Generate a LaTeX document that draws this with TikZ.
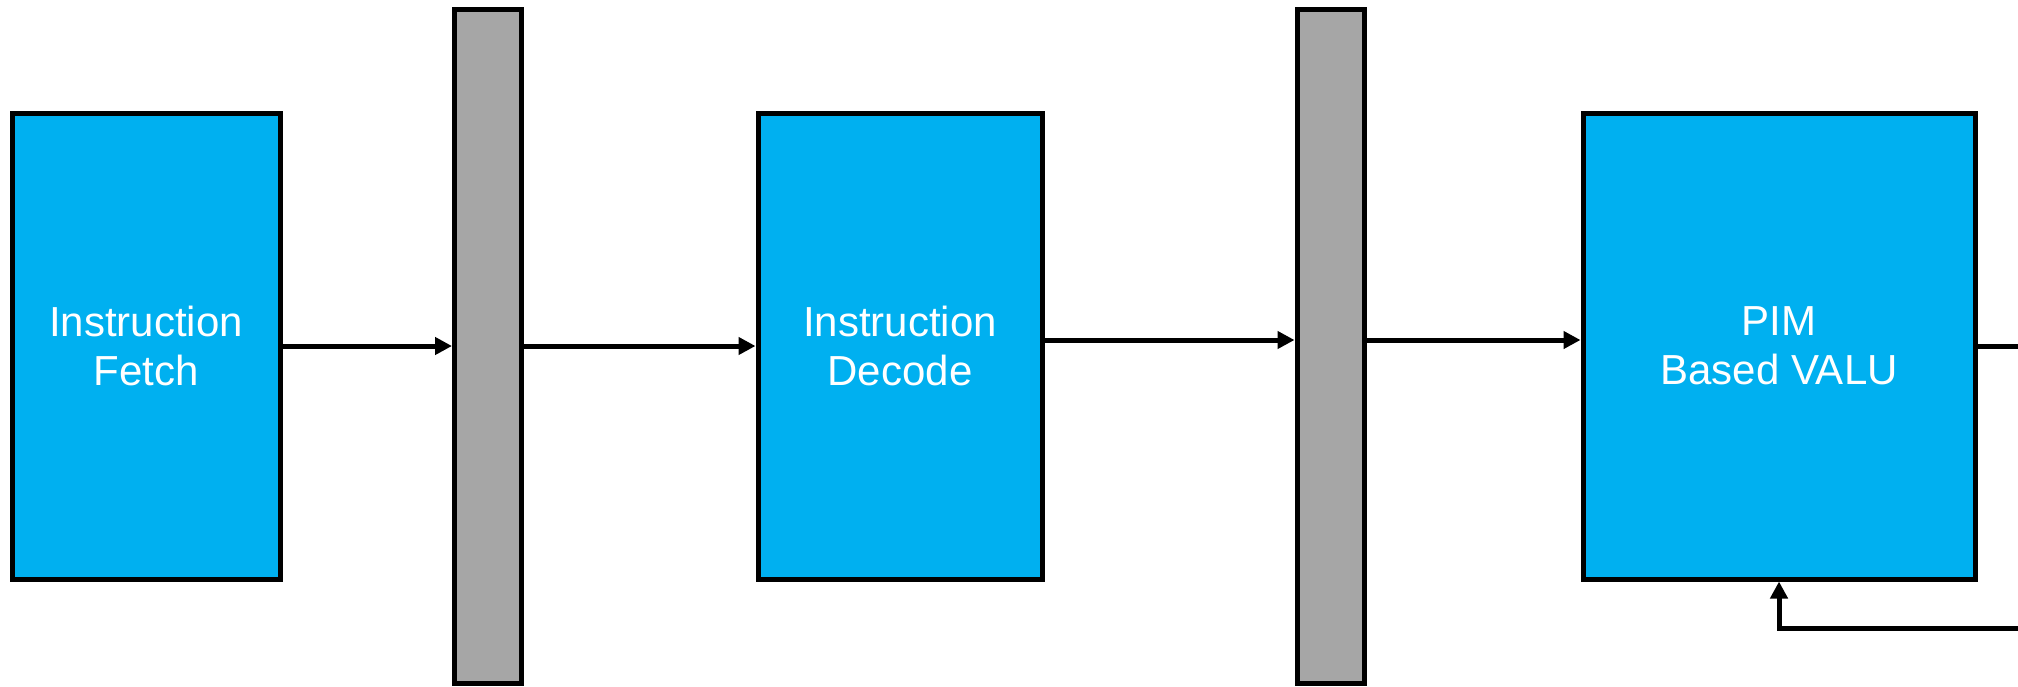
\documentclass[tikz,border=0pt]{standalone}
\usepackage{fontspec}
\setmainfont{Liberation Sans}
\usetikzlibrary{arrows.meta}
\definecolor{stageblue}{HTML}{00B0F0}
\definecolor{latchgray}{HTML}{A6A6A6}
\tikzset{
  stagebox/.style={draw=black, line width=2.5pt, fill=stageblue, text=white,
    align=center, inner sep=0pt, minimum height=233pt,
    font=\fontsize{21pt}{24.5pt}\selectfont},
  latch/.style={draw=black, line width=2.5pt, fill=latchgray, inner sep=0pt,
    minimum width=33.5pt, minimum height=337pt},
  link/.style={draw=black, line width=2.5pt,
    -{Triangle[length=8.5pt,width=8.5pt]}},
  plain/.style={draw=black, line width=2.5pt}
}
\begin{document}
\begin{tikzpicture}[x=0.5pt, y=-0.5pt]
  \useasboundingbox (0,0) rectangle (2018,686);
  % pipeline stages
  \node[stagebox, minimum width=134pt] (fetch)  at (146,346) {Instruction\\Fetch};
  \node[latch] (reg1) at (488,346) {};
  \node[stagebox, minimum width=142pt] (decode) at (900,346) {Instruction\\Decode};
  \node[latch] (reg2) at (1330.5,346) {};
  \node[stagebox, minimum width=196pt] (valu)   at (1779,346) {PIM\\Based VALU};
  % free ends leaving the right edge
  \coordinate (out) at (2022,346);
  \coordinate (back) at (2022,628);
  % connections
  \draw[link] (fetch.east) -- (reg1.west);
  \draw[link] (reg1.east) -- (decode.west);
  \draw[link] ([yshift=3pt]decode.east) -- ([yshift=3pt]reg2.west);
  \draw[link] ([yshift=3pt]reg2.east) -- ([yshift=3pt]valu.west);
  \draw[plain] (valu.east) -- (out);
  \draw[link] (back) -| (valu.south);
\end{tikzpicture}
\end{document}
